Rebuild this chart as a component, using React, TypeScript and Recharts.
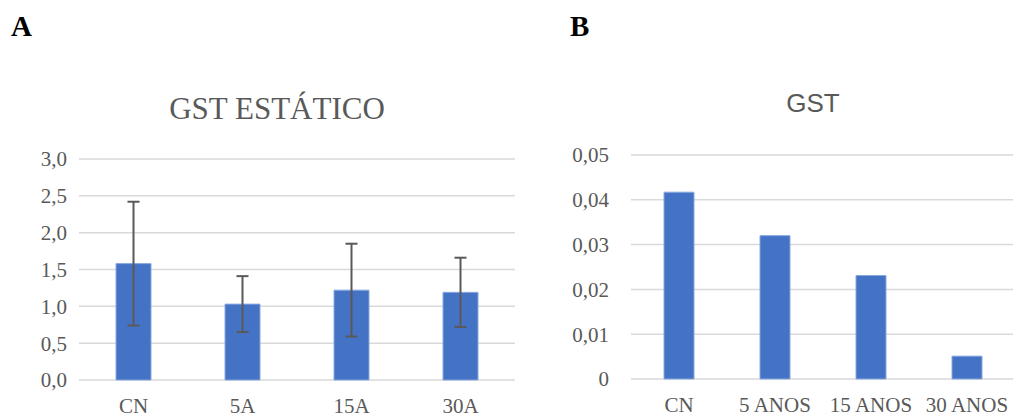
import { BarChart, Bar, XAxis, YAxis, CartesianGrid, ErrorBar } from "recharts";

// Panel A – GST estático (mean ± sd)
const groupsA = ["CN", "5A", "15A", "30A"];
const meanA = [1.58, 1.03, 1.22, 1.19];
const sdA = [0.84, 0.38, 0.63, 0.47];
const ticksA = [0, 0.5, 1, 1.5, 2, 2.5, 3];

// Panel B – GST
const groupsB = ["CN", "5 ANOS", "15 ANOS", "30 ANOS"];
const valuesB = [0.0417, 0.032, 0.0231, 0.0051];
const ticksB = [0, 0.01, 0.02, 0.03, 0.04, 0.05];

const dataA = groupsA.map((g, i) => ({ name: g, value: meanA[i], err: sdA[i] }));
const dataB = groupsB.map((g, i) => ({ name: g, value: valuesB[i] }));

const SERIF = "Liberation Serif";
const SANS = "Liberation Sans";
const BLUE = "#4472C4";
const GRID = "#d9d9d9";
const TEXT = "#595959";

const tickStyle = { fontSize: 21, fill: TEXT, fontFamily: SERIF };

function fmtA(v: number) {
  return v.toFixed(1).replace(".", ",");
}

function fmtB(v: number) {
  return v === 0 ? "0" : v.toFixed(2).replace(".", ",");
}

const panelLetter = {
  position: "absolute" as const,
  top: 10,
  fontFamily: SERIF,
  fontWeight: "bold" as const,
  fontSize: 29,
  lineHeight: "32px",
  color: "#000",
};

export default function App() {
  return (
    <div
      style={{
        position: "absolute",
        left: 0,
        top: 0,
        width: 1013,
        height: 417,
        overflow: "hidden",
        background: "#fff",
      }}
    >
      <div style={{ ...panelLetter, left: 11 }}>A</div>
      <div style={{ ...panelLetter, left: 570 }}>B</div>

      <div
        style={{
          position: "absolute",
          left: 79,
          width: 396,
          top: 91,
          textAlign: "center",
          fontFamily: SERIF,
          fontSize: 31,
          lineHeight: "36px",
          color: TEXT,
        }}
      >
        GST ESTÁTICO
      </div>
      <div
        style={{
          position: "absolute",
          left: 713,
          width: 200,
          top: 88,
          textAlign: "center",
          fontFamily: SANS,
          fontSize: 26,
          lineHeight: "30px",
          color: TEXT,
        }}
      >
        GST
      </div>

      <div style={{ position: "absolute", left: 0, top: 0 }}>
        <BarChart
          width={515}
          height={417}
          data={dataA}
          margin={{ top: 159, right: 0, left: 0, bottom: 0 }}
        >
          <CartesianGrid vertical={false} stroke={GRID} strokeWidth={1.5} />
          <XAxis
            dataKey="name"
            axisLine={false}
            tickLine={false}
            tickSize={0}
            tickMargin={18}
            height={37}
            tick={tickStyle}
            interval={0}
          />
          <YAxis
            domain={[0, 3]}
            ticks={ticksA}
            tickFormatter={fmtA}
            axisLine={false}
            tickLine={false}
            tickSize={0}
            tickMargin={12}
            width={79}
            tick={tickStyle}
          />
          <Bar
            dataKey="value"
            fill={BLUE}
            stroke="#8aa9de"
            strokeWidth={1}
            barSize={35}
            isAnimationActive={false}
          >
            <ErrorBar
              dataKey="err"
              direction="y"
              width={6}
              stroke="#595959"
              strokeWidth={2}
              isAnimationActive={false}
            />
          </Bar>
        </BarChart>
      </div>

      <div style={{ position: "absolute", left: 540, top: 0 }}>
        <BarChart
          width={475}
          height={417}
          data={dataB}
          margin={{ top: 155, right: 0, left: 0, bottom: 0 }}
        >
          <CartesianGrid vertical={false} stroke={GRID} strokeWidth={1.5} />
          <XAxis
            dataKey="name"
            axisLine={false}
            tickLine={false}
            tickSize={0}
            tickMargin={18}
            height={38}
            tick={tickStyle}
            interval={0}
          />
          <YAxis
            domain={[0, 0.05]}
            ticks={ticksB}
            tickFormatter={fmtB}
            axisLine={false}
            tickLine={false}
            tickSize={0}
            tickMargin={22}
            width={91}
            tick={tickStyle}
          />
          <Bar
            dataKey="value"
            fill={BLUE}
            stroke="#8aa9de"
            strokeWidth={1}
            barSize={30}
            isAnimationActive={false}
          />
        </BarChart>
      </div>
    </div>
  );
}
